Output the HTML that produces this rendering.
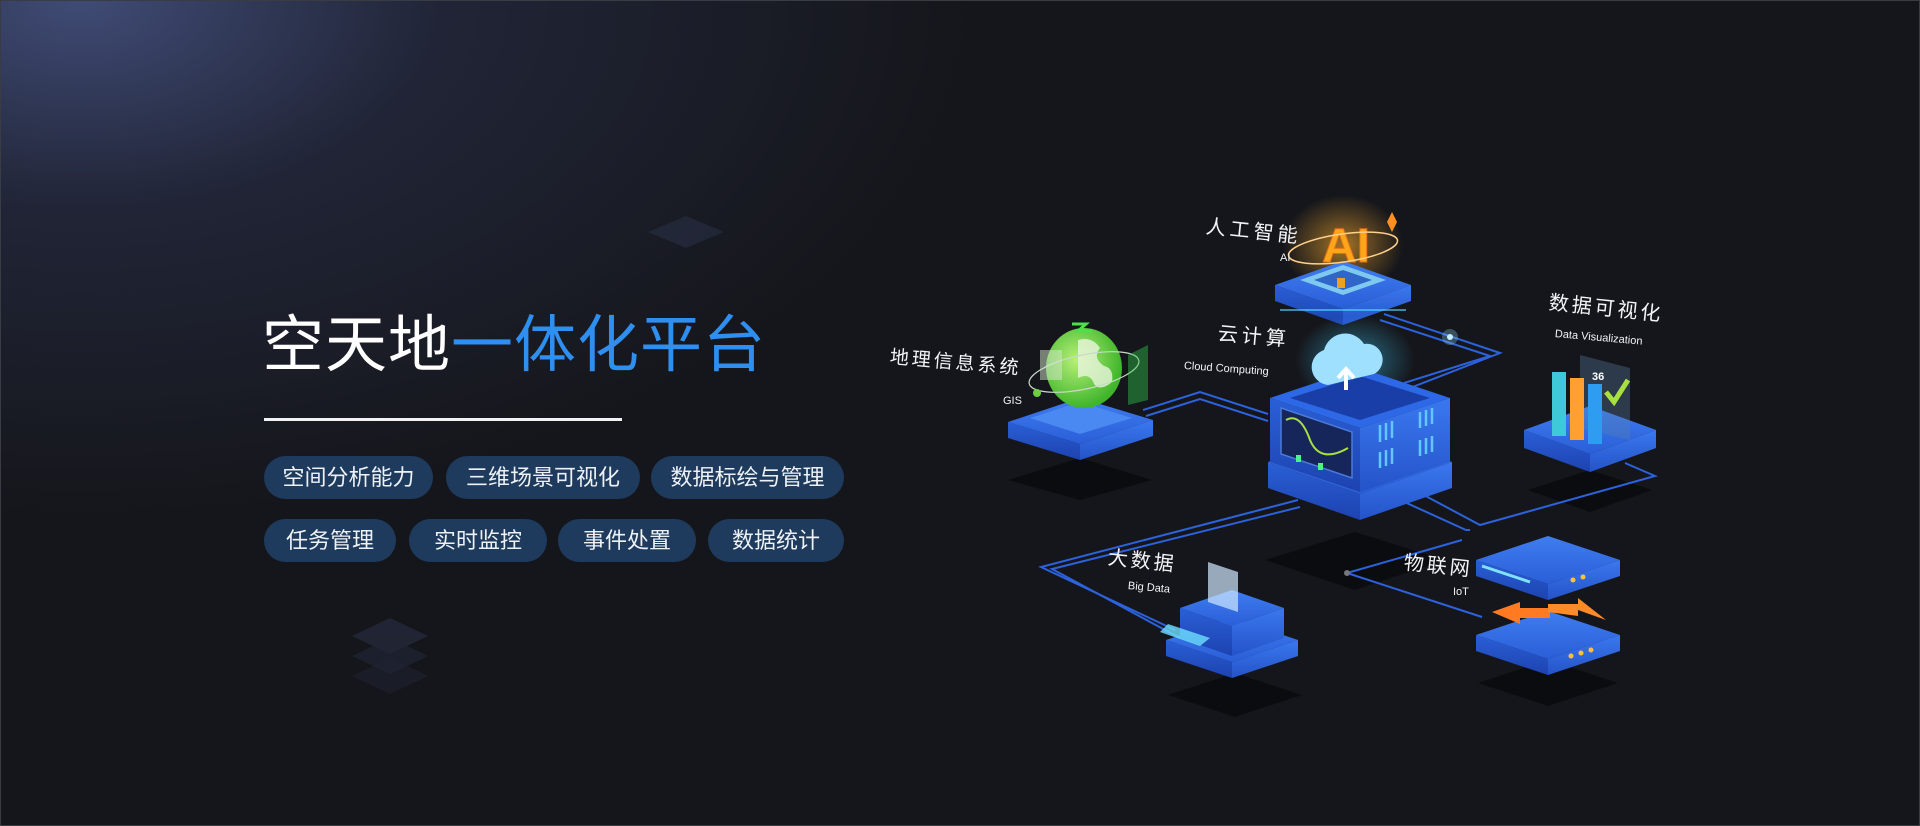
<!DOCTYPE html>
<html><head><meta charset="utf-8"><style>
html,body{margin:0;padding:0}
body{width:1920px;height:826px;overflow:hidden;position:relative;background:#15161b;font-family:"Liberation Sans","Noto Sans CJK SC",sans-serif}
.bg{position:absolute;inset:0;background:radial-gradient(ellipse 900px 520px at 80px 0px,rgba(66,78,122,0.95) 0%,rgba(40,46,72,0.6) 40%,rgba(21,22,27,0) 100%);border:1px solid #3a3c44;box-sizing:border-box}
.title{position:absolute;left:262px;top:308px;font-size:62px;line-height:76px;color:#fff;letter-spacing:1px;white-space:nowrap}
.title span{color:#2f8ff0}
.rule{position:absolute;left:264px;top:418px;width:358px;height:3px;background:#f2f2f2}
.pill{position:absolute;height:43px;line-height:43px;border-radius:22px;background:#1e3a5c;color:#eef2f7;font-size:22px;text-align:center;white-space:nowrap}
svg{position:absolute;left:0;top:0}
</style></head><body>
<div class="bg"></div>
<svg width="1920" height="826" viewBox="0 0 1920 826">
<defs>
<linearGradient id="tp" x1="0" y1="0" x2="0" y2="1"><stop offset="0" stop-color="#3f7df0"/><stop offset="1" stop-color="#2a5ed8"/></linearGradient>
<linearGradient id="lf" x1="0" y1="0" x2="0" y2="1"><stop offset="0" stop-color="#2a5fd6"/><stop offset="1" stop-color="#1d43b0"/></linearGradient>
<linearGradient id="rf" x1="0" y1="0" x2="0" y2="1"><stop offset="0" stop-color="#3a78f0"/><stop offset="1" stop-color="#2553c8"/></linearGradient>
<radialGradient id="glob" cx="0.4" cy="0.4" r="0.6"><stop offset="0" stop-color="#b8f07a"/><stop offset="1" stop-color="#3fb52a"/></radialGradient>
<radialGradient id="glow" cx="0.5" cy="0.5" r="0.5"><stop offset="0" stop-color="#ffb030" stop-opacity="0.6"/><stop offset="1" stop-color="#ffb030" stop-opacity="0"/></radialGradient>
<radialGradient id="cglow" cx="0.5" cy="0.5" r="0.5"><stop offset="0" stop-color="#3fd0ff" stop-opacity="0.5"/><stop offset="1" stop-color="#3fd0ff" stop-opacity="0"/></radialGradient>
</defs>
<g fill="#2a3148" opacity="0.55">
<polygon points="648,232 686,216 724,232 686,248"/>
<polygon points="352,636 390,618 428,636 390,654"/>
<polygon points="352,656 390,638 428,656 390,674" opacity="0.7"/>
<polygon points="352,676 390,658 428,676 390,694" opacity="0.5"/>
</g>
<g fill="#0b0c0f">
<polygon points="1008,480 1080,458 1152,480 1080,500"/>
<polygon points="1265,560 1355,532 1445,560 1355,590"/>
<polygon points="1528,490 1590,470 1652,490 1590,512"/>
<polygon points="1168,695 1235,673 1302,695 1235,717"/>
<polygon points="1478,683 1548,660 1618,683 1548,706"/>
</g>
<g fill="none" stroke="#2c62dc" stroke-width="2">
<polyline points="1143,410 1200,392 1268,414"/><polyline points="1146,416 1200,399 1268,421"/>
<polyline points="1384,314 1500,353 1410,388"/><polyline points="1380,320 1490,356 1404,383"/>
<polyline points="1298,500 1041,567 1175,630"/><polyline points="1300,507 1052,569 1178,637"/>
<polyline points="1420,493 1480,525 1655,476 1625,463"/><polyline points="1400,500 1466,530 1470,530"/>
<polyline points="1347,573 1462,540"/><polyline points="1347,573 1482,617"/>
</g>
<circle cx="1450" cy="337" r="3" fill="#e0f6ff"/><circle cx="1450" cy="337" r="8" fill="#8fd8ff" opacity="0.3"/>
<circle cx="1347" cy="573" r="3" fill="#777"/>
<polygon points="1008,422 1080,398 1153,420 1080,444" fill="url(#tp)"/>
<polygon points="1008,422 1080,444 1080,460 1008,438" fill="url(#lf)"/>
<polygon points="1080,444 1153,420 1153,436 1080,460" fill="url(#rf)"/>
<polygon points="1030,418 1080,402 1132,418 1080,434" fill="#4a88f2"/>
<ellipse cx="1084" cy="368" rx="38" ry="40" fill="url(#glob)"/>
<path d="M1078,340 q14,-4 22,8 q-8,10 4,18 q10,2 8,16 q-12,10 -18,2 q-4,-12 -16,-6 z" fill="#eaf5dd" opacity="0.8"/>
<ellipse cx="1084" cy="372" rx="56" ry="17" fill="none" stroke="#c8d8c8" stroke-width="1.2" transform="rotate(-12 1084 372)"/>
<circle cx="1037" cy="393" r="4" fill="#6ad040"/>
<polygon points="1128,355 1148,345 1148,400 1128,405" fill="#2fbf4a" opacity="0.45"/>
<rect x="1040" y="350" width="22" height="30" fill="#d8e8d0" opacity="0.5"/>
<path d="M1072,324 h14 l-8,7 h14" stroke="#4ce04a" stroke-width="3" fill="none"/>
<ellipse cx="1343" cy="245" rx="60" ry="50" fill="url(#glow)"/>
<polygon points="1275,285 1343,261 1411,285 1343,309" fill="url(#tp)"/>
<polygon points="1275,285 1343,309 1343,325 1275,301" fill="url(#lf)"/>
<polygon points="1343,309 1411,285 1411,301 1343,325" fill="url(#rf)"/>
<polygon points="1300,280 1343,265 1386,280 1343,295" fill="#7fc8f0"/>
<polygon points="1314,280 1343,270 1372,280 1343,290" fill="#2f66c8"/>
<rect x="1337" y="278" width="8" height="10" fill="#f0a020"/>
<line x1="1280" y1="310" x2="1406" y2="310" stroke="#58d8ff" stroke-width="2" opacity="0.6"/>
<text x="1322" y="262" font-family="Liberation Sans" font-weight="bold" font-size="48" fill="#ffa51c" stroke="#e07010" stroke-width="1">AI</text>
<ellipse cx="1343" cy="248" rx="55" ry="14" fill="none" stroke="#ffd08a" stroke-width="1.5" transform="rotate(-8 1343 248)"/>
<polygon points="1392,212 1397,222 1392,232 1387,222" fill="#ff9020"/>
<ellipse cx="1355" cy="360" rx="60" ry="45" fill="url(#cglow)"/>
<polygon points="1268,462 1360,430 1452,462 1360,494" fill="url(#tp)"/>
<polygon points="1268,462 1360,494 1360,520 1268,488" fill="url(#lf)"/>
<polygon points="1360,494 1452,462 1452,488 1360,520" fill="url(#rf)"/>
<polygon points="1270,398 1360,368 1450,398 1360,428" fill="#2d68e6"/>
<polygon points="1290,398 1360,376 1430,398 1360,420" fill="#1a3ea8"/>
<polygon points="1270,398 1360,428 1360,492 1270,462" fill="url(#lf)"/>
<polygon points="1360,428 1450,398 1450,462 1360,492" fill="url(#rf)"/>
<polygon points="1281,408 1352,432 1352,478 1281,454" fill="#16255a" stroke="#4c7ad8" stroke-width="1.5"/>
<path d="M1286,420 q14,-8 24,20 q10,24 38,8" stroke="#a8e040" stroke-width="2" fill="none"/>
<g stroke="#5fc8ff" stroke-width="2.5">
<line x1="1380" y1="425" x2="1380" y2="442"/><line x1="1386" y1="423" x2="1386" y2="440"/><line x1="1392" y1="421" x2="1392" y2="438"/>
<line x1="1420" y1="412" x2="1420" y2="428"/><line x1="1426" y1="410" x2="1426" y2="426"/><line x1="1432" y1="408" x2="1432" y2="424"/>
<line x1="1380" y1="452" x2="1380" y2="468"/><line x1="1386" y1="450" x2="1386" y2="466"/><line x1="1392" y1="448" x2="1392" y2="464"/>
<line x1="1420" y1="440" x2="1420" y2="456"/><line x1="1426" y1="438" x2="1426" y2="454"/><line x1="1432" y1="436" x2="1432" y2="452"/>
</g>
<rect x="1296" y="455" width="5" height="7" fill="#50f090"/><rect x="1318" y="463" width="5" height="7" fill="#50f090"/>
<path d="M1328,385 a18,18 0 0 1 -4,-35 a22,22 0 0 1 40,-6 a16,16 0 0 1 10,30 z" fill="#9fe0ff"/>
<path d="M1346,390 v-20 m-8,8 l8,-9 l8,9" stroke="#fff" stroke-width="4" fill="none"/>
<polygon points="1524,430 1590,406 1656,430 1590,454" fill="url(#tp)"/>
<polygon points="1524,430 1590,454 1590,472 1524,448" fill="url(#lf)"/>
<polygon points="1590,454 1656,430 1656,448 1590,472" fill="url(#rf)"/>
<polygon points="1580,355 1630,368 1630,440 1580,428" fill="#5a7fa8" opacity="0.35"/>
<rect x="1552" y="372" width="14" height="64" fill="#3ec8d8"/>
<rect x="1570" y="378" width="14" height="62" fill="#ffa030"/>
<rect x="1588" y="384" width="14" height="60" fill="#2e9cf0"/>
<path d="M1606,392 l8,10 l14,-22" stroke="#a8e040" stroke-width="5" fill="none"/>
<text x="1592" y="380" font-size="11" fill="#fff" font-weight="bold">36</text>
<polygon points="1166,640 1232,618 1298,640 1232,662" fill="url(#tp)"/>
<polygon points="1166,640 1232,662 1232,678 1166,656" fill="url(#lf)"/>
<polygon points="1232,662 1298,640 1298,656 1232,678" fill="url(#rf)"/>
<polygon points="1180,608 1232,590 1284,608 1232,626" fill="url(#tp)"/>
<polygon points="1180,608 1232,626 1232,656 1180,638" fill="url(#lf)"/>
<polygon points="1232,626 1284,608 1284,638 1232,656" fill="url(#rf)"/>
<polygon points="1208,562 1238,572 1238,612 1208,602" fill="#cfe8ff" opacity="0.7"/>
<polygon points="1168,624 1210,638 1200,646 1160,632" fill="#6ee0ff" opacity="0.8"/>
<polygon points="1476,560 1548,536 1620,560 1548,584" fill="url(#tp)"/>
<polygon points="1476,560 1548,584 1548,600 1476,576" fill="url(#lf)"/>
<polygon points="1548,584 1620,560 1620,576 1548,600" fill="url(#rf)"/>
<line x1="1482" y1="566" x2="1530" y2="582" stroke="#7fe0ff" stroke-width="3"/>
<polygon points="1476,635 1548,611 1620,635 1548,659" fill="url(#tp)"/>
<polygon points="1476,635 1548,659 1548,675 1476,651" fill="url(#lf)"/>
<polygon points="1548,659 1620,635 1620,651 1548,675" fill="url(#rf)"/>
<polygon points="1492,612 1520,602 1520,608 1550,608 1550,618 1520,618 1520,624" fill="#ff7a20"/>
<polygon points="1606,620 1578,610 1578,616 1548,612 1548,604 1578,604 1578,598" fill="#ff8a28"/>
<g fill="#ffc040"><circle cx="1573" cy="580" r="2.5"/><circle cx="1583" cy="577" r="2.5"/><circle cx="1571" cy="656" r="2.5"/><circle cx="1581" cy="653" r="2.5"/><circle cx="1591" cy="650" r="2.5"/></g>
<g fill="#f2f4f8" font-family="Liberation Sans, Noto Sans CJK SC, sans-serif">
<text x="1206" y="233" font-size="20" letter-spacing="4" transform="rotate(6 1206 226)">人工智能</text>
<text x="1280" y="261" font-size="11">AI</text>
<text x="1218" y="340" font-size="20" letter-spacing="4" transform="rotate(5 1218 333)">云计算</text>
<text x="1184" y="369" font-size="11" transform="rotate(4 1184 365)">Cloud Computing</text>
<text x="890" y="363" font-size="19" letter-spacing="3" transform="rotate(5 890 356)">地理信息系统</text>
<text x="1003" y="404" font-size="11">GIS</text>
<text x="1549" y="309" font-size="20" letter-spacing="3" transform="rotate(6 1549 302)">数据可视化</text>
<text x="1555" y="337" font-size="11" transform="rotate(5 1555 333)">Data Visualization</text>
<text x="1108" y="564" font-size="20" letter-spacing="3" transform="rotate(6 1108 557)">大数据</text>
<text x="1128" y="589" font-size="11" transform="rotate(5 1128 585)">Big Data</text>
<text x="1404" y="569" font-size="20" letter-spacing="3" transform="rotate(6 1404 562)">物联网</text>
<text x="1453" y="595" font-size="11">IoT</text>
</g>
</svg>
<div class="title">空天地<span>一体化平台</span></div>
<div class="rule"></div>
<div class="pill" style="left:264px;top:456px;width:169px">空间分析能力</div>
<div class="pill" style="left:446px;top:456px;width:194px">三维场景可视化</div>
<div class="pill" style="left:651px;top:456px;width:193px">数据标绘与管理</div>
<div class="pill" style="left:264px;top:519px;width:132px">任务管理</div>
<div class="pill" style="left:409px;top:519px;width:138px">实时监控</div>
<div class="pill" style="left:558px;top:519px;width:138px">事件处置</div>
<div class="pill" style="left:708px;top:519px;width:136px">数据统计</div>
</body></html>
